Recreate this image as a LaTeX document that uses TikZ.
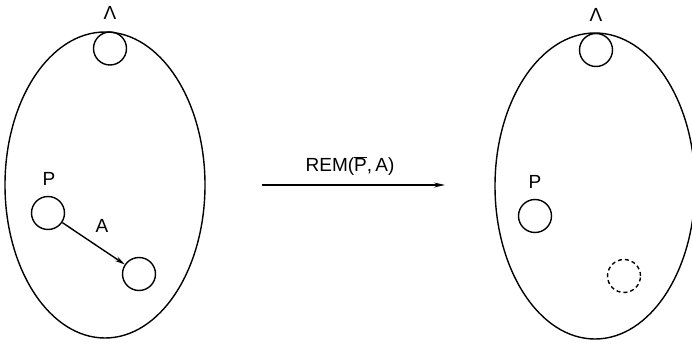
\documentclass[tikz,border=0pt]{standalone}
\usepackage{fontspec}
\setmainfont{Liberation Sans}
\usetikzlibrary{arrows.meta,shapes.geometric}
\begin{document}
\begin{tikzpicture}[x=1pt,y=-1pt,line width=1.4pt,
  blob/.style={draw,ellipse,minimum width=200pt,minimum height=306pt,inner sep=0pt},
  ball/.style={draw,circle,minimum size=33pt,inner sep=0pt},
  dball/.style={ball,dashed,dash pattern=on 4pt off 3pt},
  lab/.style={font=\fontsize{19}{21}\selectfont,inner sep=0pt}]
\useasboundingbox (0,0) rectangle (692,344);
% left
\node[blob] (L) at (105,185) {};
\node[ball] (Lt) at (110,48.5) {};
\node[lab] (Llam) at (110,13) {Λ};
\node[ball] (Lp) at (48,213) {};
\node[lab] (LpL) at (49,179) {P};
\node[ball] (La) at (139,274) {};
\node[lab] (LaL) at (102,226) {A};
\draw[-{Stealth[length=10pt,width=5pt]}] (Lp) -- (La);
% arrow
\coordinate (m1) at (262,185);
\coordinate (m2) at (445,185);
\draw[-{Stealth[length=11pt,width=5pt]}] (m1) -- (m2);
\node[lab] (rem) at (350,166) {REM($\overline{\mbox{P}}$,\,A)};
% right
\node[blob] (R) at (595,186) {};
\node[ball] (Rt) at (596,50) {};
\node[lab] (Rlam) at (596,15) {Λ};
\node[ball] (Rp) at (535,216) {};
\node[lab] (RpL) at (535,182) {P};
\node[dball] (Rd) at (624,276) {};
\end{tikzpicture}
\end{document}
